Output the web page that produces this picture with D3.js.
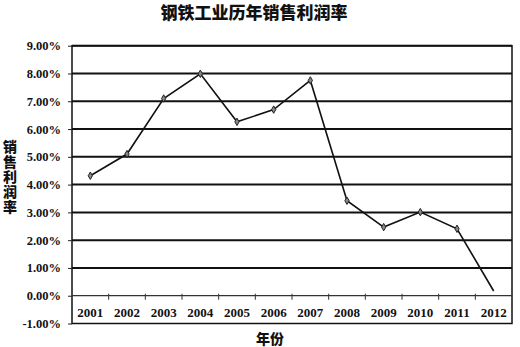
<!DOCTYPE html>
<html><head><meta charset="utf-8">
<script src="https://cdn.jsdelivr.net/npm/d3@7"></script>
<style>body{margin:0;background:#fff}svg{display:block}</style>
</head><body>
<svg id="c" width="520" height="347"></svg>
<script>
const years = ["2001","2002","2003","2004","2005","2006","2007","2008","2009","2010","2011","2012"];
const rates = [4.32,5.10,7.10,7.99,6.26,6.70,7.75,3.42,2.47,3.01,2.41,0.17];
const yTicks = [-1,0,1,2,3,4,5,6,7,8,9];
const title = "钢铁工业历年销售利润率";
const yLabel = "销售利润率";
const xLabel = "年份";

const svg = d3.select("#c");
const L = 72, R = 512, T = 45.7, B = 323.5;
const x = d3.scaleBand().domain(years).range([L, R]);
const y = d3.scaleLinear().domain([-1, 9]).range([B, T]);
const serif = "'Liberation Serif','Times New Roman',serif";
const cjk = "'Noto Sans CJK SC',sans-serif";

// gridlines
svg.append("g").selectAll("line").data(yTicks.filter(d => d > 0))
  .join("line").attr("x1", L).attr("x2", R)
  .attr("y1", d => y(d)).attr("y2", d => y(d))
  .attr("stroke", "#111").attr("stroke-width", 2);

// border
svg.append("rect").attr("x", L).attr("y", y(9)).attr("width", R - L).attr("height", y(-1) - y(9))
  .attr("fill", "none").attr("stroke", "#111").attr("stroke-width", 1.5);

// y axis ticks + labels
const ya = d3.axisLeft(y).tickValues(yTicks).tickSize(4).tickFormat(d => d.toFixed(2) + "%");
const yg = svg.append("g").attr("transform", `translate(${L},0)`).call(ya);
yg.select(".domain").remove();
yg.selectAll("line").attr("stroke", "#222");
yg.selectAll("text").attr("font-family", serif).attr("font-weight", "bold").attr("font-size", 12.5).attr("fill", "#111").attr("dx", "-4");

// zero axis with category-boundary ticks
svg.append("line").attr("x1", L).attr("x2", R).attr("y1", y(0)).attr("y2", y(0))
  .attr("stroke", "#333").attr("stroke-width", 1.2);
svg.append("g").selectAll("line").data(years.slice(1))
  .join("line").attr("x1", d => x(d)).attr("x2", d => x(d))
  .attr("y1", y(0) - 2).attr("y2", y(0) + 4).attr("stroke", "#333").attr("stroke-width", 1);

// x labels
svg.append("g").selectAll("text").data(years).join("text")
  .attr("x", d => x(d) + x.bandwidth() / 2).attr("y", y(0) + 21.5)
  .attr("text-anchor", "middle").attr("font-family", serif).attr("font-weight", "bold")
  .attr("font-size", 13).attr("fill", "#111").text(d => d);

// line
const pts = years.map((d, i) => [x(d) + x.bandwidth() / 2, y(rates[i])]);
svg.append("path").attr("d", d3.line()(pts)).attr("fill", "none").attr("stroke", "#111").attr("stroke-width", 1.6);
svg.append("g").selectAll("path").data(pts.slice(0, -1)).join("path")
  .attr("d", d3.symbol(d3.symbolDiamond, 16)())
  .attr("transform", d => `translate(${d[0]},${d[1]})`)
  .attr("fill", "#888").attr("stroke", "#222").attr("stroke-width", 1);

// title
svg.append("text").attr("x", 254).attr("y", 19).attr("text-anchor", "middle")
  .attr("font-family", cjk).attr("font-weight", "900").attr("font-size", 17).attr("fill", "#111").text(title);

// y label (vertical writing mode, upright glyphs)
svg.append("text").attr("x", 10).attr("y", 177)
  .attr("text-anchor", "middle")
  .style("writing-mode", "vertical-rl").style("text-orientation", "upright")
  .style("letter-spacing", "1px")
  .attr("font-family", cjk).attr("font-weight", "900").attr("font-size", 14)
  .attr("fill", "#111").text(yLabel);

// x label
svg.append("text").attr("x", 270).attr("y", 344).attr("text-anchor", "middle")
  .attr("font-family", cjk).attr("font-weight", "900").attr("font-size", 14).attr("fill", "#111").text(xLabel);
</script>
</body></html>
